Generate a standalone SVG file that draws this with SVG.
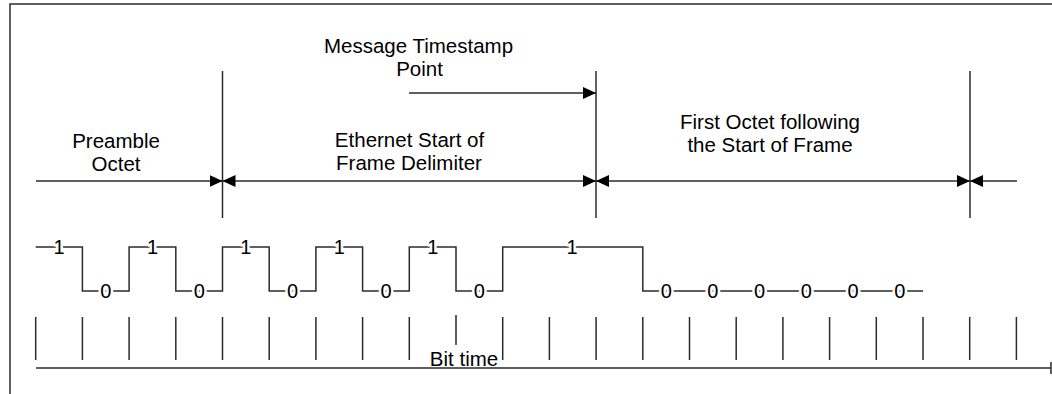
<svg xmlns="http://www.w3.org/2000/svg" width="1052" height="394" viewBox="0 0 1052 394">
<style>
.ln{stroke:#2b2b2b;stroke-width:1.5;fill:none}
.t{font-family:"Liberation Sans",Arial,sans-serif;font-size:20.5px;fill:#000;text-anchor:middle}
.d{font-family:"Liberation Sans",Arial,sans-serif;font-size:20px;fill:#000;text-anchor:middle;stroke:#fff;stroke-width:5;paint-order:stroke;stroke-linejoin:round}
</style>
<defs>
<marker id="ah" viewBox="0 0 13 12" refX="13" refY="6" markerWidth="13" markerHeight="12" markerUnits="userSpaceOnUse" orient="auto-start-reverse">
<path d="M0,0 L13,6 L0,12 z" fill="#000"/>
</marker>
</defs>
<rect width="1052" height="394" fill="#fff"/>
<g id="frame">
<path class="ln" d="M10,394 V4 H1052" stroke-width="2"/>
</g>
<g id="boundaries">
<line class="ln" x1="222.5" y1="71" x2="222.5" y2="218"/>
<line class="ln" x1="596" y1="71" x2="596" y2="218"/>
<line class="ln" x1="970" y1="71" x2="970" y2="218"/>
</g>
<g id="connectors">
<line class="ln" x1="36" y1="181" x2="222.5" y2="181" marker-end="url(#ah)"/>
<line class="ln" x1="222.5" y1="181" x2="596" y2="181" marker-start="url(#ah)" marker-end="url(#ah)"/>
<line class="ln" x1="596" y1="181" x2="970" y2="181" marker-start="url(#ah)" marker-end="url(#ah)"/>
<line class="ln" x1="970" y1="181" x2="1017" y2="181" marker-start="url(#ah)"/>
<line class="ln" x1="409" y1="93" x2="596" y2="93" marker-end="url(#ah)"/>
</g>
<g id="timestamp-label">
<text class="t" x="418.5" y="53">Message Timestamp</text>
<text class="t" x="419.5" y="76">Point</text>
</g>
<g id="preamble">
<text class="t" x="116" y="148">Preamble</text>
<text class="t" x="116" y="171">Octet</text>
</g>
<g id="sfd">
<text class="t" x="409.5" y="147">Ethernet Start of</text>
<text class="t" x="409" y="170">Frame Delimiter</text>
</g>
<g id="first-octet">
<text class="t" x="770" y="129">First Octet following</text>
<text class="t" x="770" y="152">the Start of Frame</text>
</g>
<g id="waveform">
<path class="ln" d="M35.7,247 H82.4 V291 H129.1 V247 H175.8 V291 H222.5 V247 H269.2 V291 H315.9 V247 H362.6 V291 H409.3 V247 H456 V291 H502.7 V247 H642.8 V291 H923"/>
<text class="d" x="59" y="254">1</text>
<text class="d" x="152.5" y="254">1</text>
<text class="d" x="245.9" y="254">1</text>
<text class="d" x="339.3" y="254">1</text>
<text class="d" x="432.7" y="254">1</text>
<text class="d" x="572" y="254">1</text>
<text class="d" x="105.8" y="298">0</text>
<text class="d" x="199.2" y="298">0</text>
<text class="d" x="292.6" y="298">0</text>
<text class="d" x="386" y="298">0</text>
<text class="d" x="479.4" y="298">0</text>
<text class="d" x="666.2" y="298">0</text>
<text class="d" x="712.9" y="298">0</text>
<text class="d" x="759.6" y="298">0</text>
<text class="d" x="806.3" y="298">0</text>
<text class="d" x="853" y="298">0</text>
<text class="d" x="899.7" y="298">0</text>
</g>
<g id="bit-time">
<path class="ln" d="M35.7,317V360 M82.4,317V360 M129.1,317V360 M175.8,317V360 M222.5,317V360 M269.2,317V360 M315.9,317V360 M362.6,317V360 M409.3,317V360 M456,315V345 M502.7,317V360 M549.4,317V360 M596.1,317V360 M642.8,317V360 M689.5,317V360 M736.2,317V360 M782.9,317V360 M829.6,317V360 M876.3,317V360 M923,317V360 M969.7,317V360 M1016.4,317V360"/>
<path class="ln" d="M36,368 H1051 M1051,362 V374"/>
<text class="t" x="464" y="366">Bit time</text>
</g>
</svg>
